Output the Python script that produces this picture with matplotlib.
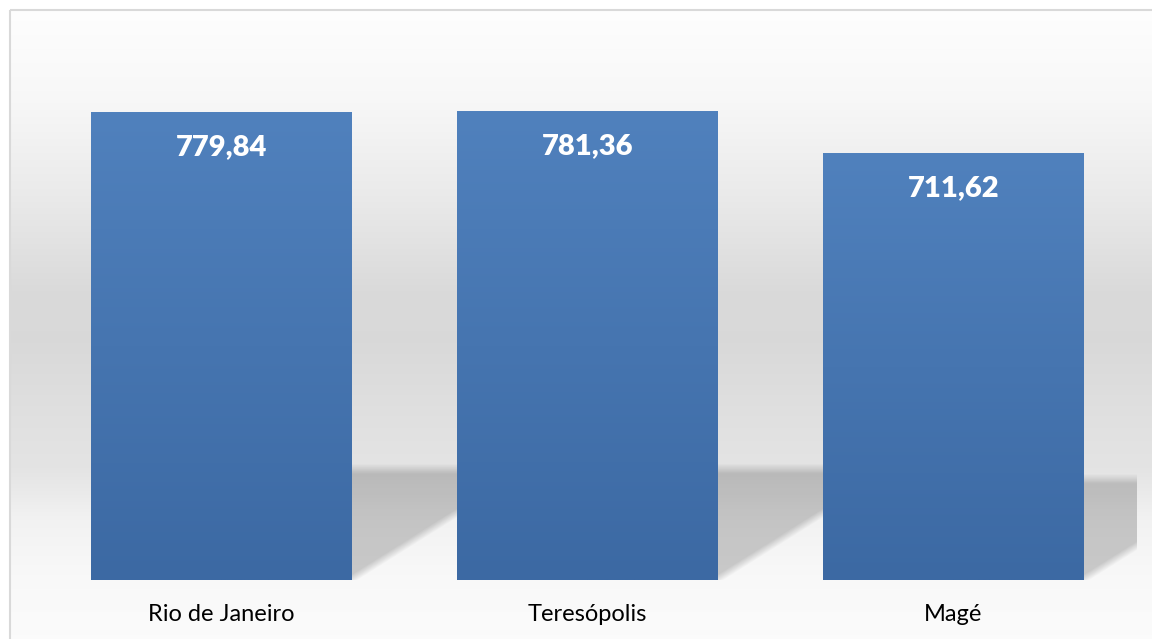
import numpy as np
import matplotlib.pyplot as plt
from matplotlib.colors import LinearSegmentedColormap
from matplotlib.patches import Rectangle

cities = ['Rio de Janeiro', 'Teresópolis', 'Magé']
values = [779.84, 781.36, 711.62]
value_labels = ['779,84', '781,36', '711,62']

W, H, DPI = 1152, 639, 100
fig = plt.figure(figsize=(W / DPI, H / DPI), dpi=DPI)
fig.patch.set_facecolor('white')

# chart area background: light vertical gradient framed by a thin grey border
bg = fig.add_axes([0, 0, 1, 1], zorder=0)
bg.set_axis_off()
rows = np.arange(H)
stops_y = [10, 100, 200, 290, 340, 420, 470, 520, 580, 639]
stops_v = [0.995, 0.97, 0.915, 0.855, 0.85, 0.88, 0.895, 0.95, 0.975, 0.985]
grey = np.interp(rows, stops_y, stops_v)
bg_img = np.repeat(grey[:, None], W, axis=1)
bg_img[:9, :] = 1.0
bg_img[:, :9] = 1.0
bg.imshow(np.dstack([bg_img] * 3), extent=(0, W, H, 0), aspect='auto',
          interpolation='bilinear')
bg.set_xlim(0, W)
bg.set_ylim(H, 0)
bg.add_patch(Rectangle((9.5, 9.5), W + 10, H + 10, fill=False,
                       edgecolor='#d9d9d9', linewidth=1.5))

# plot area
left, right, bottom, top = 38.5, 1136.5, 580, 40
ax = fig.add_axes([left / W, (H - bottom) / H, (right - left) / W, (bottom - top) / H],
                  zorder=1)
ax.patch.set_alpha(0)
ymax = 900
ax.set_xlim(-0.5, len(cities) - 0.5)
ax.set_ylim(0, ymax)
x = np.arange(len(cities))
bar_w = 0.713

px_x = (right - left) / len(cities)   # pixels per x unit
px_y = (bottom - top) / ymax          # pixels per value unit

# soft perspective shadows behind each bar
gw, gh = int(right - left), int(bottom - top)
gx = (np.arange(gw) + 0.5) / px_x - 0.5
gy = (gh - np.arange(gh) - 0.5) / px_y
GX, GY = np.meshgrid(gx, gy)
alpha = np.zeros_like(GX)
k = 0.244          # shadow height relative to bar
slope = 1.59       # horizontal px per vertical px along the sheared edge
for xi, v in zip(x, values):
    x1 = xi + bar_w / 2
    top_px = k * v * px_y
    ypx = GY * px_y
    d_top = (top_px - ypx)
    edge_x = x1 * px_x + slope * ypx
    d_edge = (edge_x - GX * px_x) / np.hypot(1, slope)
    a_top = np.clip((d_top + 2) / 10, 0, 1)
    a_edge = np.clip((d_edge + 3) / 8, 0, 1)
    a_left = (GX > xi - bar_w / 2)
    alpha = np.maximum(alpha, 0.19 * a_top * a_edge * a_left)
shadow = np.zeros((gh, gw, 4))
shadow[..., 3] = alpha
ax.imshow(shadow, extent=(-0.5, len(cities) - 0.5, 0, ymax), aspect='auto',
          zorder=1, interpolation='bilinear')

# bars with a vertical blue gradient
bars = ax.bar(x, values, width=bar_w, color='none', edgecolor='none', zorder=2)
blue = LinearSegmentedColormap.from_list('bar', ['#3c69a3', '#5081bd'])
grad = np.linspace(0, 1, 256)[:, None]
for b in bars:
    bx, by = b.get_x(), b.get_y()
    im = ax.imshow(grad, cmap=blue, origin='lower', aspect='auto', zorder=3,
                   extent=(bx, bx + b.get_width(), by, by + b.get_height()))
    im.set_clip_path(b)

for xi, v, lab in zip(x, values, value_labels):
    ax.annotate(lab, (xi, v), xytext=(0, -35), textcoords='offset pixels',
                ha='center', va='center', color='white', fontsize=21,
                fontweight='heavy', family='Lato', zorder=4)

ax.set_xlim(-0.5, len(cities) - 0.5)
ax.set_ylim(0, ymax)
ax.set_xticks(x)
ax.set_xticklabels(cities, fontsize=17, family='Lato', color='black')
ax.tick_params(axis='x', length=0, pad=17)
ax.set_yticks([])
for s in ax.spines.values():
    s.set_visible(False)

fig.savefig('out.png', dpi=DPI)
